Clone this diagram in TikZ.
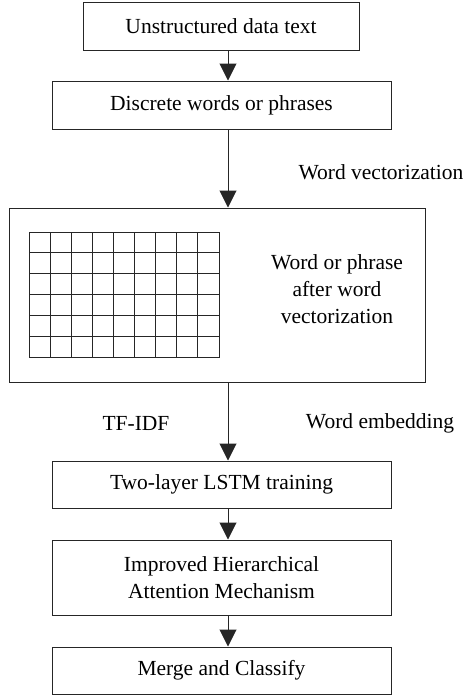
\documentclass[tikz,border=0pt]{standalone}
\usepackage{fontspec}
\setmainfont{Liberation Serif}
\usetikzlibrary{arrows.meta}
\begin{document}
\begin{tikzpicture}[x=1pt,y=-1pt,
  font=\fontsize{21.5}{27}\selectfont,
  box/.style={draw=black!85,line width=1pt,minimum width=339pt,minimum height=47pt,inner sep=0pt,align=center},
  lbl/.style={inner sep=0pt,align=center},
  gridline/.style={line width=1pt,black!85,line cap=rect},
  flow/.style={draw=black!85,line width=1pt,-{Triangle[width=17pt,length=17pt]}}]
\useasboundingbox (0,0) rectangle (464,697);
\node[box,minimum width=276pt,minimum height=48pt] (b1) at (221,26) {Unstructured data text};
\node[box,minimum height=48pt] (b2) at (221.5,105) {Discrete words or phrases};
\node[box,minimum width=416pt,minimum height=174pt] (big) at (217,295) {};
\node[box] (b3) at (221.5,484.5) {Two-layer LSTM training};
\node[box,minimum height=75pt] (b4) at (221.5,577.5) {Improved Hierarchical\\Attention Mechanism};
\node[box] (b5) at (221.5,670.5) {Merge and Classify};
\node[lbl] (wv) at (381,172) {Word vectorization};
\node[lbl] (tf) at (136,423) {TF-IDF};
\node[lbl] (we) at (380,423) {Word embedding};
\node[lbl] (bt) at (337,289) {Word or phrase\\after word\\vectorization};
% grid
\foreach \i in {0,...,9} \draw[gridline] ({29+\i*190/9},232) -- ({29+\i*190/9},357);
\foreach \j in {0,...,6} \draw[gridline] (29,{232+\j*125/6}) -- (219,{232+\j*125/6});
% arrows
\coordinate (ax) at (228,0);
\draw[flow] (b1.south -| ax) -- (b2.north -| ax);
\draw[flow] (b2.south -| ax) -- (big.north -| ax);
\draw[flow] (big.south -| ax) -- (b3.north -| ax);
\draw[flow] (b3.south -| ax) -- (b4.north -| ax);
\draw[flow] (b4.south -| ax) -- (b5.north -| ax);
\end{tikzpicture}
\end{document}
